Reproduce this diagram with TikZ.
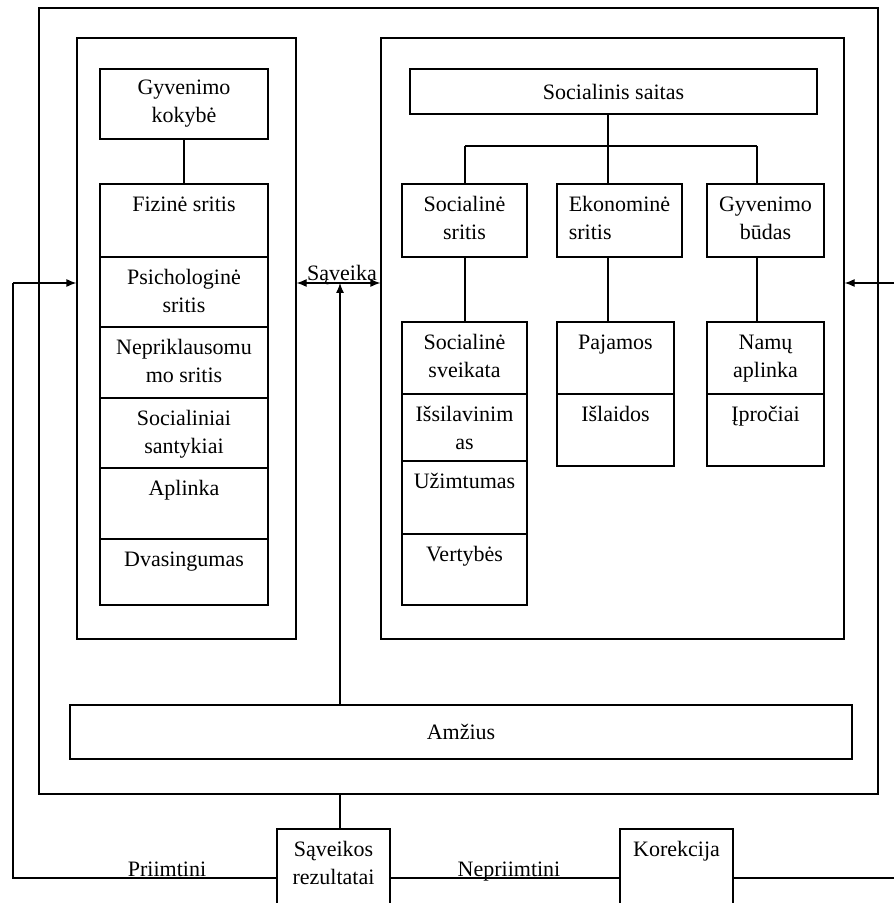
\documentclass[tikz,border=0pt]{standalone}
\usepackage{fontspec}
\setmainfont{Liberation Serif}
\usetikzlibrary{arrows.meta}

\tikzset{
  box/.style={rectangle, draw=black},
  cell/.style={box, label={[anchor=north, align=center, inner sep=4.5pt]north:{\vphantom{Ž}#1}}},
  lcell/.style={box, label={[anchor=north, align=left, inner sep=4.5pt]north:{\vphantom{Ž}#1}}},
  arr/.style={-{Latex[length=5pt,width=4pt]}},
  dblarr/.style={{Latex[length=5pt,width=4pt]}-{Latex[length=5pt,width=4pt]}}
}

\begin{document}
\begin{tikzpicture}[x=0.5pt, y=-0.5pt, line width=0.6pt, font=\fontsize{11}{14}\selectfont]

\clip (0,0) rectangle (894,903);

% frames
\node[box,
    minimum width = 419.5pt,
    minimum height = 393pt] (outer) at (458.5,401) {};

\node[box,
    minimum width = 109.5pt,
    minimum height = 300.5pt] (leftpanel) at (186.5,338.5) {};

\node[box,
    minimum width = 231.5pt,
    minimum height = 300.5pt] (rightpanel) at (612.5,338.5) {};

% left column
\node[box, align=center,
    minimum width = 84pt,
    minimum height = 35pt] (kokybe) at (184,104) {Gyvenimo\\kokybė};

\node[cell={Fizinė sritis}, minimum width = 84pt, minimum height = 36.5pt] (fizine) at (184,220.5) {};
\node[cell={Psichologinė\\sritis}, minimum width = 84pt, minimum height = 35pt] (psich) at (184,292) {};
\node[cell={Nepriklausomu\\mo sritis}, minimum width = 84pt, minimum height = 35.5pt] (nepr) at (184,362.5) {};
\node[cell={Socialiniai\\santykiai}, minimum width = 84pt, minimum height = 35pt] (santykiai) at (184,433) {};
\node[cell={Aplinka}, minimum width = 84pt, minimum height = 35.5pt] (aplinka) at (184,503.5) {};
\node[cell={Dvasingumas}, minimum width = 84pt, minimum height = 33pt] (dvas) at (184,572) {};

% right column
\node[box,
    minimum width = 203.5pt,
    minimum height = 22.5pt] (saitas) at (613.5,91.5) {Socialinis saitas};

\node[cell={Socialinė\\sritis}, minimum width = 62.5pt, minimum height = 36.5pt] (socsritis) at (464.5,220.5) {};
\node[lcell={Ekonominė\\sritis}, minimum width = 62.5pt, minimum height = 36.5pt] (ekosritis) at (619.5,220.5) {};
\node[cell={Gyvenimo\\būdas}, minimum width = 58.5pt, minimum height = 36.5pt] (budas) at (765.5,220.5) {};

\node[cell={Socialinė\\sveikata}, minimum width = 62.5pt, minimum height = 36pt] (sveikata) at (464.5,358) {};
\node[cell={Išsilavinim\\as}, minimum width = 62.5pt, minimum height = 33.5pt] (issilav) at (464.5,427.5) {};
\node[cell={Užimtumas}, minimum width = 62.5pt, minimum height = 36.5pt] (uzimt) at (464.5,497.5) {};
\node[cell={Vertybės}, minimum width = 62.5pt, minimum height = 35.5pt] (vertybes) at (464.5,569.5) {};

\node[cell={Pajamos}, minimum width = 58.5pt, minimum height = 36pt] (pajamos) at (615.5,358) {};
\node[cell={Išlaidos}, minimum width = 58.5pt, minimum height = 36pt] (islaidos) at (615.5,430) {};

\node[cell={Namų\\aplinka}, minimum width = 58.5pt, minimum height = 36pt] (namu) at (765.5,358) {};
\node[cell={Įpročiai}, minimum width = 58.5pt, minimum height = 36pt] (iprociai) at (765.5,430) {};

% age
\node[box,
    minimum width = 391pt,
    minimum height = 27pt] (amzius) at (461,732) {Amžius};

% results
\node[cell={Sąveikos\\rezultatai}, minimum width = 56.5pt, minimum height = 49pt] (rezultatai) at (333.5,878) {};
\node[cell={Korekcija}, minimum width = 56.5pt, minimum height = 49pt] (korekcija) at (676.5,878) {};

\node[anchor=base] (saveika) at (342,280) {Sąveika};
\node[anchor=base] (priimtini) at (167,876) {Priimtini};
\node[anchor=base] (nepriimtini) at (509,876) {Nepriimtini};

\coordinate (mid) at (340,283);
\coordinate (bus) at (608,146);
\coordinate (busL) at (465,146);
\coordinate (busR) at (757,146);
\coordinate (fbL) at (13,283);
\coordinate (fbR) at (894,283);
\coordinate (fbRb) at (894,878);

\draw (kokybe.south) -- (fizine.north);

\draw (saitas.south -| bus) -- (bus);
\draw (busL) -- (busR);
\draw (busL) -- (socsritis.north -| busL);
\draw (bus) -- (ekosritis.north -| bus);
\draw (busR) -- (budas.north -| busR);
\draw (socsritis.south -| busL) -- (sveikata.north -| busL);
\draw (ekosritis.south -| bus) -- (pajamos.north -| bus);
\draw (budas.south -| busR) -- (namu.north -| busR);

\draw[dblarr] (leftpanel.east |- mid) -- (rightpanel.west |- mid);
\draw[arr] (amzius.north -| mid) -- (mid);
\draw (outer.south -| mid) -- (rezultatai.north -| mid);

\draw[arr] (fbL) -- (leftpanel.west |- fbL);
\draw (fbL) |- (rezultatai.west);
\draw (rezultatai.east) -- (korekcija.west);
\draw (korekcija.east) -- (fbRb);
\draw[arr] (fbR) -- (rightpanel.east |- fbR);
\end{tikzpicture}
\end{document}
